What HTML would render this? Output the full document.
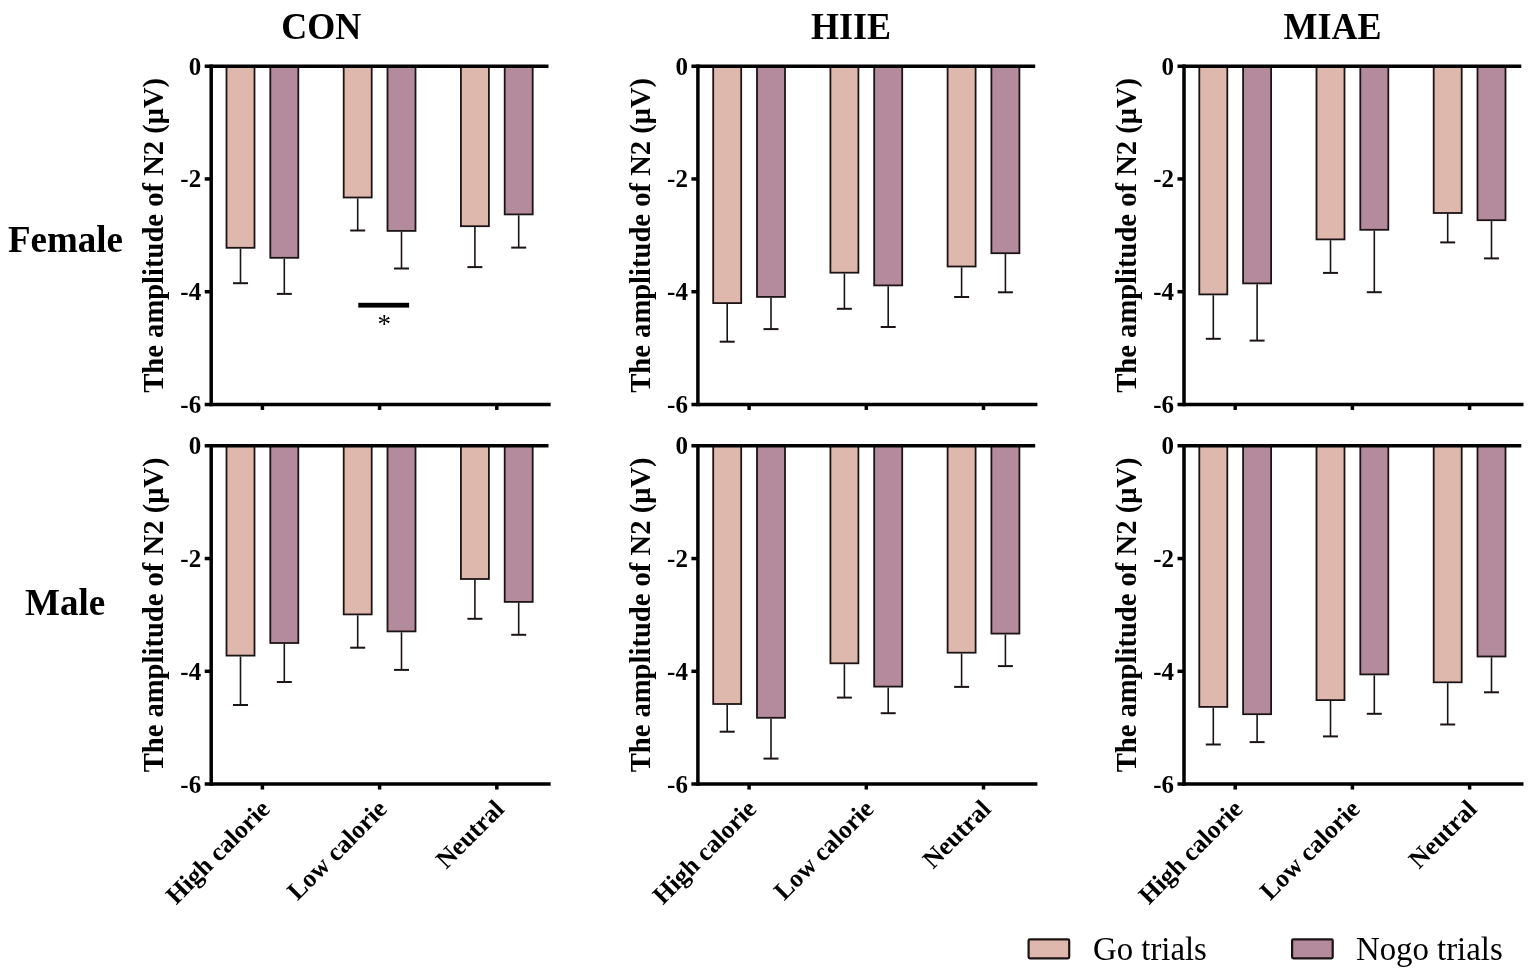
<!DOCTYPE html><html><head><meta charset="utf-8"><title>N2 amplitude</title><style>html,body{margin:0;padding:0;background:#fff;}body{width:1535px;height:978px;overflow:hidden;}svg{display:block;}text{font-family:'Liberation Serif','Times New Roman',serif;}</style></head><body>
<svg width="1535" height="978" viewBox="0 0 1535 978">
<rect width="1535" height="978" fill="#fff"/>
<text transform="translate(321.3,39) scale(1,1.07)" font-size="36" font-weight="bold" text-anchor="middle">CON</text>
<text transform="translate(851.0,39) scale(1,1.07)" font-size="36" font-weight="bold" text-anchor="middle">HIIE</text>
<text transform="translate(1332.5,39) scale(1,1.07)" font-size="36" font-weight="bold" text-anchor="middle">MIAE</text>
<text x="8" y="252" font-size="37" font-weight="bold">Female</text>
<text x="25" y="615" font-size="37" font-weight="bold">Male</text>
<rect x="226.50" y="66.20" width="28.00" height="181.60" fill="#dfb8ad" stroke="#1c1315" stroke-width="1.80"/><line x1="240.50" y1="248.70" x2="240.50" y2="283.20" stroke="#1c1315" stroke-width="1.6"/><line x1="233.00" y1="283.20" x2="248.00" y2="283.20" stroke="#1c1315" stroke-width="2"/><rect x="270.30" y="66.20" width="28.00" height="191.60" fill="#b48a9d" stroke="#1c1315" stroke-width="1.80"/><line x1="284.30" y1="258.70" x2="284.30" y2="293.90" stroke="#1c1315" stroke-width="1.6"/><line x1="276.80" y1="293.90" x2="291.80" y2="293.90" stroke="#1c1315" stroke-width="2"/><rect x="343.70" y="66.20" width="28.00" height="131.30" fill="#dfb8ad" stroke="#1c1315" stroke-width="1.80"/><line x1="357.70" y1="198.40" x2="357.70" y2="230.50" stroke="#1c1315" stroke-width="1.6"/><line x1="350.20" y1="230.50" x2="365.20" y2="230.50" stroke="#1c1315" stroke-width="2"/><rect x="387.50" y="66.20" width="28.00" height="164.70" fill="#b48a9d" stroke="#1c1315" stroke-width="1.80"/><line x1="401.50" y1="231.80" x2="401.50" y2="268.50" stroke="#1c1315" stroke-width="1.6"/><line x1="394.00" y1="268.50" x2="409.00" y2="268.50" stroke="#1c1315" stroke-width="2"/><rect x="460.90" y="66.20" width="28.00" height="160.00" fill="#dfb8ad" stroke="#1c1315" stroke-width="1.80"/><line x1="474.90" y1="227.10" x2="474.90" y2="267.10" stroke="#1c1315" stroke-width="1.6"/><line x1="467.40" y1="267.10" x2="482.40" y2="267.10" stroke="#1c1315" stroke-width="2"/><rect x="504.70" y="66.20" width="28.00" height="148.20" fill="#b48a9d" stroke="#1c1315" stroke-width="1.80"/><line x1="518.70" y1="215.30" x2="518.70" y2="247.60" stroke="#1c1315" stroke-width="1.6"/><line x1="511.20" y1="247.60" x2="526.20" y2="247.60" stroke="#1c1315" stroke-width="2"/>
<line x1="204.70" y1="66.20" x2="548.50" y2="66.20" stroke="#000" stroke-width="3.5"/>
<line x1="204.70" y1="404.45" x2="550.70" y2="404.45" stroke="#000" stroke-width="3.5"/>
<line x1="211.20" y1="64.45" x2="211.20" y2="406.20" stroke="#000" stroke-width="3.5"/>
<line x1="204.70" y1="178.95" x2="211.20" y2="178.95" stroke="#000" stroke-width="3.5"/>
<line x1="204.70" y1="291.70" x2="211.20" y2="291.70" stroke="#000" stroke-width="3.5"/>
<line x1="262.40" y1="404.45" x2="262.40" y2="409.95" stroke="#000" stroke-width="3.5"/>
<line x1="379.60" y1="404.45" x2="379.60" y2="409.95" stroke="#000" stroke-width="3.5"/>
<line x1="496.80" y1="404.45" x2="496.80" y2="409.95" stroke="#000" stroke-width="3.5"/>
<text x="201.2" y="74.7" font-size="25" font-weight="bold" text-anchor="end">0</text>
<text x="201.2" y="187.4" font-size="25" font-weight="bold" text-anchor="end">-2</text>
<text x="201.2" y="300.2" font-size="25" font-weight="bold" text-anchor="end">-4</text>
<text x="201.2" y="412.9" font-size="25" font-weight="bold" text-anchor="end">-6</text>
<text transform="translate(163.0,235.3) rotate(-90)" font-size="28.6" font-weight="bold" text-anchor="middle">The amplitude of N2 (μV)</text>
<rect x="713.20" y="66.20" width="28.00" height="236.90" fill="#dfb8ad" stroke="#1c1315" stroke-width="1.80"/><line x1="727.20" y1="304.00" x2="727.20" y2="341.70" stroke="#1c1315" stroke-width="1.6"/><line x1="719.70" y1="341.70" x2="734.70" y2="341.70" stroke="#1c1315" stroke-width="2"/><rect x="757.00" y="66.20" width="28.00" height="230.70" fill="#b48a9d" stroke="#1c1315" stroke-width="1.80"/><line x1="771.00" y1="297.80" x2="771.00" y2="329.10" stroke="#1c1315" stroke-width="1.6"/><line x1="763.50" y1="329.10" x2="778.50" y2="329.10" stroke="#1c1315" stroke-width="2"/><rect x="830.40" y="66.20" width="28.00" height="206.50" fill="#dfb8ad" stroke="#1c1315" stroke-width="1.80"/><line x1="844.40" y1="273.60" x2="844.40" y2="308.80" stroke="#1c1315" stroke-width="1.6"/><line x1="836.90" y1="308.80" x2="851.90" y2="308.80" stroke="#1c1315" stroke-width="2"/><rect x="874.20" y="66.20" width="28.00" height="219.20" fill="#b48a9d" stroke="#1c1315" stroke-width="1.80"/><line x1="888.20" y1="286.30" x2="888.20" y2="327.00" stroke="#1c1315" stroke-width="1.6"/><line x1="880.70" y1="327.00" x2="895.70" y2="327.00" stroke="#1c1315" stroke-width="2"/><rect x="947.60" y="66.20" width="28.00" height="200.30" fill="#dfb8ad" stroke="#1c1315" stroke-width="1.80"/><line x1="961.60" y1="267.40" x2="961.60" y2="297.00" stroke="#1c1315" stroke-width="1.6"/><line x1="954.10" y1="297.00" x2="969.10" y2="297.00" stroke="#1c1315" stroke-width="2"/><rect x="991.40" y="66.20" width="28.00" height="187.00" fill="#b48a9d" stroke="#1c1315" stroke-width="1.80"/><line x1="1005.40" y1="254.10" x2="1005.40" y2="292.30" stroke="#1c1315" stroke-width="1.6"/><line x1="997.90" y1="292.30" x2="1012.90" y2="292.30" stroke="#1c1315" stroke-width="2"/>
<line x1="691.40" y1="66.20" x2="1035.20" y2="66.20" stroke="#000" stroke-width="3.5"/>
<line x1="691.40" y1="404.45" x2="1037.40" y2="404.45" stroke="#000" stroke-width="3.5"/>
<line x1="697.90" y1="64.45" x2="697.90" y2="406.20" stroke="#000" stroke-width="3.5"/>
<line x1="691.40" y1="178.95" x2="697.90" y2="178.95" stroke="#000" stroke-width="3.5"/>
<line x1="691.40" y1="291.70" x2="697.90" y2="291.70" stroke="#000" stroke-width="3.5"/>
<line x1="749.10" y1="404.45" x2="749.10" y2="409.95" stroke="#000" stroke-width="3.5"/>
<line x1="866.30" y1="404.45" x2="866.30" y2="409.95" stroke="#000" stroke-width="3.5"/>
<line x1="983.50" y1="404.45" x2="983.50" y2="409.95" stroke="#000" stroke-width="3.5"/>
<text x="687.9" y="74.7" font-size="25" font-weight="bold" text-anchor="end">0</text>
<text x="687.9" y="187.4" font-size="25" font-weight="bold" text-anchor="end">-2</text>
<text x="687.9" y="300.2" font-size="25" font-weight="bold" text-anchor="end">-4</text>
<text x="687.9" y="412.9" font-size="25" font-weight="bold" text-anchor="end">-6</text>
<text transform="translate(649.7,235.3) rotate(-90)" font-size="28.6" font-weight="bold" text-anchor="middle">The amplitude of N2 (μV)</text>
<rect x="1199.30" y="66.20" width="28.00" height="228.20" fill="#dfb8ad" stroke="#1c1315" stroke-width="1.80"/><line x1="1213.30" y1="295.30" x2="1213.30" y2="338.80" stroke="#1c1315" stroke-width="1.6"/><line x1="1205.80" y1="338.80" x2="1220.80" y2="338.80" stroke="#1c1315" stroke-width="2"/><rect x="1243.10" y="66.20" width="28.00" height="217.20" fill="#b48a9d" stroke="#1c1315" stroke-width="1.80"/><line x1="1257.10" y1="284.30" x2="1257.10" y2="340.60" stroke="#1c1315" stroke-width="1.6"/><line x1="1249.60" y1="340.60" x2="1264.60" y2="340.60" stroke="#1c1315" stroke-width="2"/><rect x="1316.50" y="66.20" width="28.00" height="173.20" fill="#dfb8ad" stroke="#1c1315" stroke-width="1.80"/><line x1="1330.50" y1="240.30" x2="1330.50" y2="272.90" stroke="#1c1315" stroke-width="1.6"/><line x1="1323.00" y1="272.90" x2="1338.00" y2="272.90" stroke="#1c1315" stroke-width="2"/><rect x="1360.30" y="66.20" width="28.00" height="163.60" fill="#b48a9d" stroke="#1c1315" stroke-width="1.80"/><line x1="1374.30" y1="230.70" x2="1374.30" y2="292.20" stroke="#1c1315" stroke-width="1.6"/><line x1="1366.80" y1="292.20" x2="1381.80" y2="292.20" stroke="#1c1315" stroke-width="2"/><rect x="1433.70" y="66.20" width="28.00" height="146.80" fill="#dfb8ad" stroke="#1c1315" stroke-width="1.80"/><line x1="1447.70" y1="213.90" x2="1447.70" y2="242.40" stroke="#1c1315" stroke-width="1.6"/><line x1="1440.20" y1="242.40" x2="1455.20" y2="242.40" stroke="#1c1315" stroke-width="2"/><rect x="1477.50" y="66.20" width="28.00" height="154.00" fill="#b48a9d" stroke="#1c1315" stroke-width="1.80"/><line x1="1491.50" y1="221.10" x2="1491.50" y2="258.40" stroke="#1c1315" stroke-width="1.6"/><line x1="1484.00" y1="258.40" x2="1499.00" y2="258.40" stroke="#1c1315" stroke-width="2"/>
<line x1="1177.50" y1="66.20" x2="1521.30" y2="66.20" stroke="#000" stroke-width="3.5"/>
<line x1="1177.50" y1="404.45" x2="1523.50" y2="404.45" stroke="#000" stroke-width="3.5"/>
<line x1="1184.00" y1="64.45" x2="1184.00" y2="406.20" stroke="#000" stroke-width="3.5"/>
<line x1="1177.50" y1="178.95" x2="1184.00" y2="178.95" stroke="#000" stroke-width="3.5"/>
<line x1="1177.50" y1="291.70" x2="1184.00" y2="291.70" stroke="#000" stroke-width="3.5"/>
<line x1="1235.20" y1="404.45" x2="1235.20" y2="409.95" stroke="#000" stroke-width="3.5"/>
<line x1="1352.40" y1="404.45" x2="1352.40" y2="409.95" stroke="#000" stroke-width="3.5"/>
<line x1="1469.60" y1="404.45" x2="1469.60" y2="409.95" stroke="#000" stroke-width="3.5"/>
<text x="1174.0" y="74.7" font-size="25" font-weight="bold" text-anchor="end">0</text>
<text x="1174.0" y="187.4" font-size="25" font-weight="bold" text-anchor="end">-2</text>
<text x="1174.0" y="300.2" font-size="25" font-weight="bold" text-anchor="end">-4</text>
<text x="1174.0" y="412.9" font-size="25" font-weight="bold" text-anchor="end">-6</text>
<text transform="translate(1135.8,235.3) rotate(-90)" font-size="28.6" font-weight="bold" text-anchor="middle">The amplitude of N2 (μV)</text>
<rect x="226.50" y="445.80" width="28.00" height="209.80" fill="#dfb8ad" stroke="#1c1315" stroke-width="1.80"/><line x1="240.50" y1="656.50" x2="240.50" y2="705.00" stroke="#1c1315" stroke-width="1.6"/><line x1="233.00" y1="705.00" x2="248.00" y2="705.00" stroke="#1c1315" stroke-width="2"/><rect x="270.30" y="445.80" width="28.00" height="197.20" fill="#b48a9d" stroke="#1c1315" stroke-width="1.80"/><line x1="284.30" y1="643.90" x2="284.30" y2="682.00" stroke="#1c1315" stroke-width="1.6"/><line x1="276.80" y1="682.00" x2="291.80" y2="682.00" stroke="#1c1315" stroke-width="2"/><rect x="343.70" y="445.80" width="28.00" height="168.60" fill="#dfb8ad" stroke="#1c1315" stroke-width="1.80"/><line x1="357.70" y1="615.30" x2="357.70" y2="647.70" stroke="#1c1315" stroke-width="1.6"/><line x1="350.20" y1="647.70" x2="365.20" y2="647.70" stroke="#1c1315" stroke-width="2"/><rect x="387.50" y="445.80" width="28.00" height="185.60" fill="#b48a9d" stroke="#1c1315" stroke-width="1.80"/><line x1="401.50" y1="632.30" x2="401.50" y2="669.90" stroke="#1c1315" stroke-width="1.6"/><line x1="394.00" y1="669.90" x2="409.00" y2="669.90" stroke="#1c1315" stroke-width="2"/><rect x="460.90" y="445.80" width="28.00" height="133.20" fill="#dfb8ad" stroke="#1c1315" stroke-width="1.80"/><line x1="474.90" y1="579.90" x2="474.90" y2="618.80" stroke="#1c1315" stroke-width="1.6"/><line x1="467.40" y1="618.80" x2="482.40" y2="618.80" stroke="#1c1315" stroke-width="2"/><rect x="504.70" y="445.80" width="28.00" height="156.10" fill="#b48a9d" stroke="#1c1315" stroke-width="1.80"/><line x1="518.70" y1="602.80" x2="518.70" y2="634.80" stroke="#1c1315" stroke-width="1.6"/><line x1="511.20" y1="634.80" x2="526.20" y2="634.80" stroke="#1c1315" stroke-width="2"/>
<line x1="204.70" y1="445.80" x2="548.50" y2="445.80" stroke="#000" stroke-width="3.5"/>
<line x1="204.70" y1="784.05" x2="550.70" y2="784.05" stroke="#000" stroke-width="3.5"/>
<line x1="211.20" y1="444.05" x2="211.20" y2="785.80" stroke="#000" stroke-width="3.5"/>
<line x1="204.70" y1="558.55" x2="211.20" y2="558.55" stroke="#000" stroke-width="3.5"/>
<line x1="204.70" y1="671.30" x2="211.20" y2="671.30" stroke="#000" stroke-width="3.5"/>
<line x1="262.40" y1="784.05" x2="262.40" y2="789.55" stroke="#000" stroke-width="3.5"/>
<line x1="379.60" y1="784.05" x2="379.60" y2="789.55" stroke="#000" stroke-width="3.5"/>
<line x1="496.80" y1="784.05" x2="496.80" y2="789.55" stroke="#000" stroke-width="3.5"/>
<text x="201.2" y="454.3" font-size="25" font-weight="bold" text-anchor="end">0</text>
<text x="201.2" y="567.0" font-size="25" font-weight="bold" text-anchor="end">-2</text>
<text x="201.2" y="679.8" font-size="25" font-weight="bold" text-anchor="end">-4</text>
<text x="201.2" y="792.5" font-size="25" font-weight="bold" text-anchor="end">-6</text>
<text transform="translate(163.0,614.9) rotate(-90)" font-size="28.6" font-weight="bold" text-anchor="middle">The amplitude of N2 (μV)</text>
<rect x="713.20" y="445.80" width="28.00" height="258.20" fill="#dfb8ad" stroke="#1c1315" stroke-width="1.80"/><line x1="727.20" y1="704.90" x2="727.20" y2="731.70" stroke="#1c1315" stroke-width="1.6"/><line x1="719.70" y1="731.70" x2="734.70" y2="731.70" stroke="#1c1315" stroke-width="2"/><rect x="757.00" y="445.80" width="28.00" height="272.00" fill="#b48a9d" stroke="#1c1315" stroke-width="1.80"/><line x1="771.00" y1="718.70" x2="771.00" y2="758.60" stroke="#1c1315" stroke-width="1.6"/><line x1="763.50" y1="758.60" x2="778.50" y2="758.60" stroke="#1c1315" stroke-width="2"/><rect x="830.40" y="445.80" width="28.00" height="217.50" fill="#dfb8ad" stroke="#1c1315" stroke-width="1.80"/><line x1="844.40" y1="664.20" x2="844.40" y2="697.60" stroke="#1c1315" stroke-width="1.6"/><line x1="836.90" y1="697.60" x2="851.90" y2="697.60" stroke="#1c1315" stroke-width="2"/><rect x="874.20" y="445.80" width="28.00" height="240.80" fill="#b48a9d" stroke="#1c1315" stroke-width="1.80"/><line x1="888.20" y1="687.50" x2="888.20" y2="713.20" stroke="#1c1315" stroke-width="1.6"/><line x1="880.70" y1="713.20" x2="895.70" y2="713.20" stroke="#1c1315" stroke-width="2"/><rect x="947.60" y="445.80" width="28.00" height="206.90" fill="#dfb8ad" stroke="#1c1315" stroke-width="1.80"/><line x1="961.60" y1="653.60" x2="961.60" y2="686.90" stroke="#1c1315" stroke-width="1.6"/><line x1="954.10" y1="686.90" x2="969.10" y2="686.90" stroke="#1c1315" stroke-width="2"/><rect x="991.40" y="445.80" width="28.00" height="187.80" fill="#b48a9d" stroke="#1c1315" stroke-width="1.80"/><line x1="1005.40" y1="634.50" x2="1005.40" y2="666.10" stroke="#1c1315" stroke-width="1.6"/><line x1="997.90" y1="666.10" x2="1012.90" y2="666.10" stroke="#1c1315" stroke-width="2"/>
<line x1="691.40" y1="445.80" x2="1035.20" y2="445.80" stroke="#000" stroke-width="3.5"/>
<line x1="691.40" y1="784.05" x2="1037.40" y2="784.05" stroke="#000" stroke-width="3.5"/>
<line x1="697.90" y1="444.05" x2="697.90" y2="785.80" stroke="#000" stroke-width="3.5"/>
<line x1="691.40" y1="558.55" x2="697.90" y2="558.55" stroke="#000" stroke-width="3.5"/>
<line x1="691.40" y1="671.30" x2="697.90" y2="671.30" stroke="#000" stroke-width="3.5"/>
<line x1="749.10" y1="784.05" x2="749.10" y2="789.55" stroke="#000" stroke-width="3.5"/>
<line x1="866.30" y1="784.05" x2="866.30" y2="789.55" stroke="#000" stroke-width="3.5"/>
<line x1="983.50" y1="784.05" x2="983.50" y2="789.55" stroke="#000" stroke-width="3.5"/>
<text x="687.9" y="454.3" font-size="25" font-weight="bold" text-anchor="end">0</text>
<text x="687.9" y="567.0" font-size="25" font-weight="bold" text-anchor="end">-2</text>
<text x="687.9" y="679.8" font-size="25" font-weight="bold" text-anchor="end">-4</text>
<text x="687.9" y="792.5" font-size="25" font-weight="bold" text-anchor="end">-6</text>
<text transform="translate(649.7,614.9) rotate(-90)" font-size="28.6" font-weight="bold" text-anchor="middle">The amplitude of N2 (μV)</text>
<rect x="1199.30" y="445.80" width="28.00" height="261.10" fill="#dfb8ad" stroke="#1c1315" stroke-width="1.80"/><line x1="1213.30" y1="707.80" x2="1213.30" y2="744.50" stroke="#1c1315" stroke-width="1.6"/><line x1="1205.80" y1="744.50" x2="1220.80" y2="744.50" stroke="#1c1315" stroke-width="2"/><rect x="1243.10" y="445.80" width="28.00" height="268.40" fill="#b48a9d" stroke="#1c1315" stroke-width="1.80"/><line x1="1257.10" y1="715.10" x2="1257.10" y2="742.10" stroke="#1c1315" stroke-width="1.6"/><line x1="1249.60" y1="742.10" x2="1264.60" y2="742.10" stroke="#1c1315" stroke-width="2"/><rect x="1316.50" y="445.80" width="28.00" height="254.30" fill="#dfb8ad" stroke="#1c1315" stroke-width="1.80"/><line x1="1330.50" y1="701.00" x2="1330.50" y2="736.40" stroke="#1c1315" stroke-width="1.6"/><line x1="1323.00" y1="736.40" x2="1338.00" y2="736.40" stroke="#1c1315" stroke-width="2"/><rect x="1360.30" y="445.80" width="28.00" height="228.60" fill="#b48a9d" stroke="#1c1315" stroke-width="1.80"/><line x1="1374.30" y1="675.30" x2="1374.30" y2="713.80" stroke="#1c1315" stroke-width="1.6"/><line x1="1366.80" y1="713.80" x2="1381.80" y2="713.80" stroke="#1c1315" stroke-width="2"/><rect x="1433.70" y="445.80" width="28.00" height="236.50" fill="#dfb8ad" stroke="#1c1315" stroke-width="1.80"/><line x1="1447.70" y1="683.20" x2="1447.70" y2="724.50" stroke="#1c1315" stroke-width="1.6"/><line x1="1440.20" y1="724.50" x2="1455.20" y2="724.50" stroke="#1c1315" stroke-width="2"/><rect x="1477.50" y="445.80" width="28.00" height="210.70" fill="#b48a9d" stroke="#1c1315" stroke-width="1.80"/><line x1="1491.50" y1="657.40" x2="1491.50" y2="692.30" stroke="#1c1315" stroke-width="1.6"/><line x1="1484.00" y1="692.30" x2="1499.00" y2="692.30" stroke="#1c1315" stroke-width="2"/>
<line x1="1177.50" y1="445.80" x2="1521.30" y2="445.80" stroke="#000" stroke-width="3.5"/>
<line x1="1177.50" y1="784.05" x2="1523.50" y2="784.05" stroke="#000" stroke-width="3.5"/>
<line x1="1184.00" y1="444.05" x2="1184.00" y2="785.80" stroke="#000" stroke-width="3.5"/>
<line x1="1177.50" y1="558.55" x2="1184.00" y2="558.55" stroke="#000" stroke-width="3.5"/>
<line x1="1177.50" y1="671.30" x2="1184.00" y2="671.30" stroke="#000" stroke-width="3.5"/>
<line x1="1235.20" y1="784.05" x2="1235.20" y2="789.55" stroke="#000" stroke-width="3.5"/>
<line x1="1352.40" y1="784.05" x2="1352.40" y2="789.55" stroke="#000" stroke-width="3.5"/>
<line x1="1469.60" y1="784.05" x2="1469.60" y2="789.55" stroke="#000" stroke-width="3.5"/>
<text x="1174.0" y="454.3" font-size="25" font-weight="bold" text-anchor="end">0</text>
<text x="1174.0" y="567.0" font-size="25" font-weight="bold" text-anchor="end">-2</text>
<text x="1174.0" y="679.8" font-size="25" font-weight="bold" text-anchor="end">-4</text>
<text x="1174.0" y="792.5" font-size="25" font-weight="bold" text-anchor="end">-6</text>
<text transform="translate(1135.8,614.9) rotate(-90)" font-size="28.6" font-weight="bold" text-anchor="middle">The amplitude of N2 (μV)</text>
<text transform="translate(271.2,810.4) rotate(-45)" font-size="25.6" font-weight="bold" text-anchor="end">High calorie</text>
<text transform="translate(388.4,810.4) rotate(-45)" font-size="25.6" font-weight="bold" text-anchor="end">Low calorie</text>
<text transform="translate(505.6,810.4) rotate(-45)" font-size="25.6" font-weight="bold" text-anchor="end">Neutral</text>
<text transform="translate(757.9,810.4) rotate(-45)" font-size="25.6" font-weight="bold" text-anchor="end">High calorie</text>
<text transform="translate(875.1,810.4) rotate(-45)" font-size="25.6" font-weight="bold" text-anchor="end">Low calorie</text>
<text transform="translate(992.3,810.4) rotate(-45)" font-size="25.6" font-weight="bold" text-anchor="end">Neutral</text>
<text transform="translate(1244.0,810.4) rotate(-45)" font-size="25.6" font-weight="bold" text-anchor="end">High calorie</text>
<text transform="translate(1361.2,810.4) rotate(-45)" font-size="25.6" font-weight="bold" text-anchor="end">Low calorie</text>
<text transform="translate(1478.4,810.4) rotate(-45)" font-size="25.6" font-weight="bold" text-anchor="end">Neutral</text>
<rect x="358.3" y="302.8" width="50.8" height="4.8" fill="#000"/>
<text x="384.2" y="332.5" font-size="27" text-anchor="middle">*</text>
<rect x="1028.6" y="939.3" width="40.6" height="19" rx="1.2" fill="#dfb8ad" stroke="#1c1315" stroke-width="2.2"/>
<text x="1093" y="959.5" font-size="32.8">Go trials</text>
<rect x="1292.1" y="939.3" width="40.6" height="19" rx="1.2" fill="#b48a9d" stroke="#1c1315" stroke-width="2.2"/>
<text x="1356" y="959.5" font-size="32.8">Nogo trials</text>
</svg></body></html>
